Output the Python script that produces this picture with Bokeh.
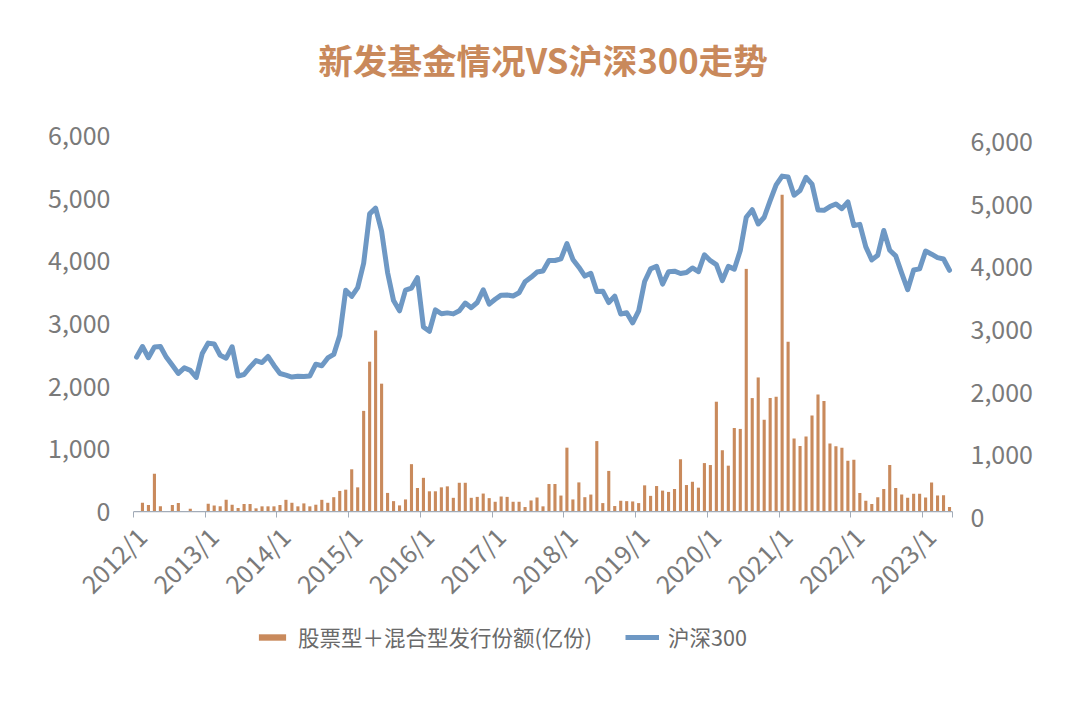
from math import pi
import numpy as np
from bokeh.plotting import figure
from bokeh.layouts import column
from bokeh.models import (Range1d, LinearAxis, FixedTicker, Span, Legend, LegendItem,
                          ColumnDataSource, NumeralTickFormatter, Label)
from bokeh.embed import file_html
from bokeh.resources import INLINE

FONT = "Noto Sans CJK SC"

# monthly categories 2012/1 .. 2023/5
months = [f"{y}/{m}" for y in range(2012, 2024) for m in range(1, 13)][:137]
tick_labels = ["2012/1", "2013/1", "2014/1", "2015/1", "2016/1", "2017/1",
               "2018/1", "2019/1", "2020/1", "2021/1", "2022/1", "2023/1"]

# 股票型+混合型发行份额(亿份)
fund_issuance = [
    0, 141, 105, 602, 84, 0, 105, 136, 0, 47, 0, 0,                 # 2012
    126, 99, 84, 188, 110, 58, 120, 120, 52, 84, 84, 84,            # 2013
    105, 188, 141, 84, 131, 84, 110, 188, 141, 230, 330, 350,       # 2014
    675, 387, 1607, 2392, 2889, 2041, 298, 167, 99, 194, 757, 377,  # 2015
    539, 324, 324, 387, 403, 220, 460, 460, 220, 235, 288, 215,     # 2016
    157, 241, 235, 157, 157, 73, 178, 225, 84, 440, 440, 256,       # 2017
    1020, 194, 466, 230, 272, 1125, 136, 649, 89, 173, 167, 162,    # 2018
    136, 419, 251, 408, 335, 314, 361, 835, 424, 476, 382, 774,     # 2019
    743, 1753, 979, 733, 1334, 1319, 3872, 1811, 2140, 1465, 1811, 1832,  # 2020
    5055, 2711, 1167, 1047, 1198, 1533, 1868, 1764, 1088, 1041, 1020, 811,  # 2021
    827, 298, 173, 120, 230, 361, 743, 377, 272, 220, 283, 283,     # 2022
    225, 466, 256, 262, 73,                                          # 2023
]

# 沪深300 monthly close
csi300 = [
    2464, 2634, 2455, 2626, 2634, 2461, 2333, 2204, 2293, 2254, 2140, 2522,
    2688, 2674, 2495, 2448, 2630, 2164, 2187, 2304, 2409, 2378, 2475, 2331,
    2203, 2178, 2146, 2158, 2157, 2165, 2352, 2327, 2451, 2508, 2809, 3533,
    3434, 3573, 3962, 4749, 4841, 4473, 3816, 3366, 3203, 3534, 3566, 3731,
    2946, 2877, 3218, 3156, 3170, 3154, 3204, 3327, 3253, 3336, 3538, 3310,
    3387, 3453, 3456, 3439, 3492, 3666, 3737, 3822, 3837, 4006, 4006, 4031,
    4275, 4023, 3899, 3757, 3802, 3510, 3517, 3335, 3438, 3153, 3173, 3011,
    3202, 3670, 3872, 3913, 3630, 3826, 3836, 3799, 3815, 3887, 3828, 4097,
    4003, 3940, 3686, 3912, 3868, 4164, 4695, 4816, 4588, 4696, 4960, 5211,
    5352, 5337, 5048, 5123, 5332, 5224, 4812, 4806, 4866, 4908, 4832, 4940,
    4564, 4582, 4223, 4016, 4091, 4485, 4170, 4079, 3804, 3540, 3854, 3872,
    4157, 4107, 4051, 4030, 3850,
]

title_text = "新发基金情况VS沪深300走势"
legend_labels = ["股票型＋混合型发行份额(亿份)", "沪深300"]

n = len(months)
src = ColumnDataSource(dict(x=np.arange(n) + 0.5, month=months,
                            fund=fund_issuance, csi=csi300))

BAR = "#c98a5c"
LINE = "#6e98c4"
GRAY = "#7a7a7a"
AXC = "#a3acb8"
W = 1075


def bare(fig):
    fig.outline_line_color = None
    fig.xgrid.visible = False
    fig.ygrid.visible = False
    fig.background_fill_color = "white"
    fig.border_fill_color = "white"


# ---- title strip ----
tp = figure(width=W, height=100, output_backend="svg", toolbar_location=None,
            title=None, x_range=Range1d(0, 1), y_range=Range1d(0, 1), min_border=0,
            x_axis_location=None, y_axis_location=None)
bare(tp)
tp.add_layout(Label(x=0.5, y=0.42, text=title_text, text_align="center",
                    text_baseline="middle", text_font=FONT, text_font_size="34.6px",
                    text_font_style="bold", text_color="#c9895b"))

# ---- main chart ----
p = figure(width=W, height=515, output_backend="svg", toolbar_location=None,
           title=None, x_range=Range1d(0, n), y_range=Range1d(-94, 6000),
           min_border_left=133, min_border_right=W - 952, min_border_top=35,
           min_border_bottom=92)
bare(p)
p.extra_y_ranges = {"right": Range1d(0, 6094)}

bars = p.vbar(x="x", top="fund", bottom=0, width=0.52, source=src,
              fill_color=BAR, line_color=None)
line = p.line(x="x", y="csi", source=src, line_color=LINE, line_width=5,
              line_join="round", line_cap="round")

p.add_layout(Span(location=0, dimension="width", line_color=AXC, line_width=1.2))

# x axis: tick marks at year boundaries
year_ticks = [0, 12, 24, 36, 48, 60, 72, 84, 96, 108, 120, 132, n]
xa = p.xaxis[0]
xa.ticker = FixedTicker(ticks=year_ticks)
xa.major_label_overrides = {t: "" for t in year_ticks}
xa.axis_line_color = None
xa.major_tick_in = 6
xa.major_tick_out = 0
xa.major_tick_line_color = AXC
xa.minor_tick_line_color = None
xa.major_label_standoff = 0
xa.major_label_text_font_size = "1px"

# x labels, rotated, their ends slightly right of the year ticks
label_pos = [round(i * 12 + 1.3, 1) for i in range(len(tick_labels))]
la = LinearAxis(ticker=FixedTicker(ticks=label_pos),
                major_label_overrides={t: lab for t, lab in zip(label_pos, tick_labels)},
                major_label_orientation=pi / 4,
                axis_line_color=None, major_tick_line_color=None,
                minor_tick_line_color=None,
                major_label_text_font=FONT, major_label_text_font_size="25px",
                major_label_text_color=GRAY, major_label_standoff=8)
p.add_layout(la, "below")

# left y axis
ya = p.yaxis[0]
ya.ticker = FixedTicker(ticks=[0, 1000, 2000, 3000, 4000, 5000, 6000])
ya.formatter = NumeralTickFormatter(format="0,0")
ya.axis_line_color = None
ya.major_tick_line_color = None
ya.minor_tick_line_color = None
ya.major_label_text_font = FONT
ya.major_label_text_font_size = "25px"
ya.major_label_text_color = GRAY
ya.major_label_standoff = 17

# right y axis
ra = LinearAxis(y_range_name="right")
ra.ticker = FixedTicker(ticks=[0, 1000, 2000, 3000, 4000, 5000, 6000])
ra.formatter = NumeralTickFormatter(format="0,0")
ra.axis_line_color = None
ra.major_tick_line_color = None
ra.minor_tick_line_color = None
ra.major_label_text_font = FONT
ra.major_label_text_font_size = "25px"
ra.major_label_text_color = GRAY
ra.major_label_standoff = 12
p.add_layout(ra, "right")

# ---- legend strip ----
lg = figure(width=W, height=80, output_backend="svg", toolbar_location=None,
            title=None, x_range=Range1d(0, 1), y_range=Range1d(0, 1), min_border=0,
            x_axis_location=None, y_axis_location=None)
bare(lg)
# legend proxies: same styles as the chart's glyphs, with nothing to draw
lb = lg.vbar(x=np.array([np.nan]), top=np.array([np.nan]), width=0.5,
             fill_color=BAR, line_color=None)
ll = lg.line(x=np.array([np.nan, np.nan]), y=np.array([np.nan, np.nan]),
             line_color=LINE, line_width=5)
legend = Legend(items=[LegendItem(label=legend_labels[0], renderers=[lb]),
                       LegendItem(label=legend_labels[1], renderers=[ll])],
                orientation="horizontal", location=(122, 43),
                label_text_font=FONT, label_text_font_size="21.5px",
                label_text_color="#6a6a6a",
                glyph_width=34, glyph_height=8, label_standoff=9, spacing=33,
                padding=0, margin=0, border_line_color=None,
                background_fill_alpha=0)
lg.add_layout(legend, "center")

open("out.html", "w").write(file_html(column(tp, p, lg), INLINE))
